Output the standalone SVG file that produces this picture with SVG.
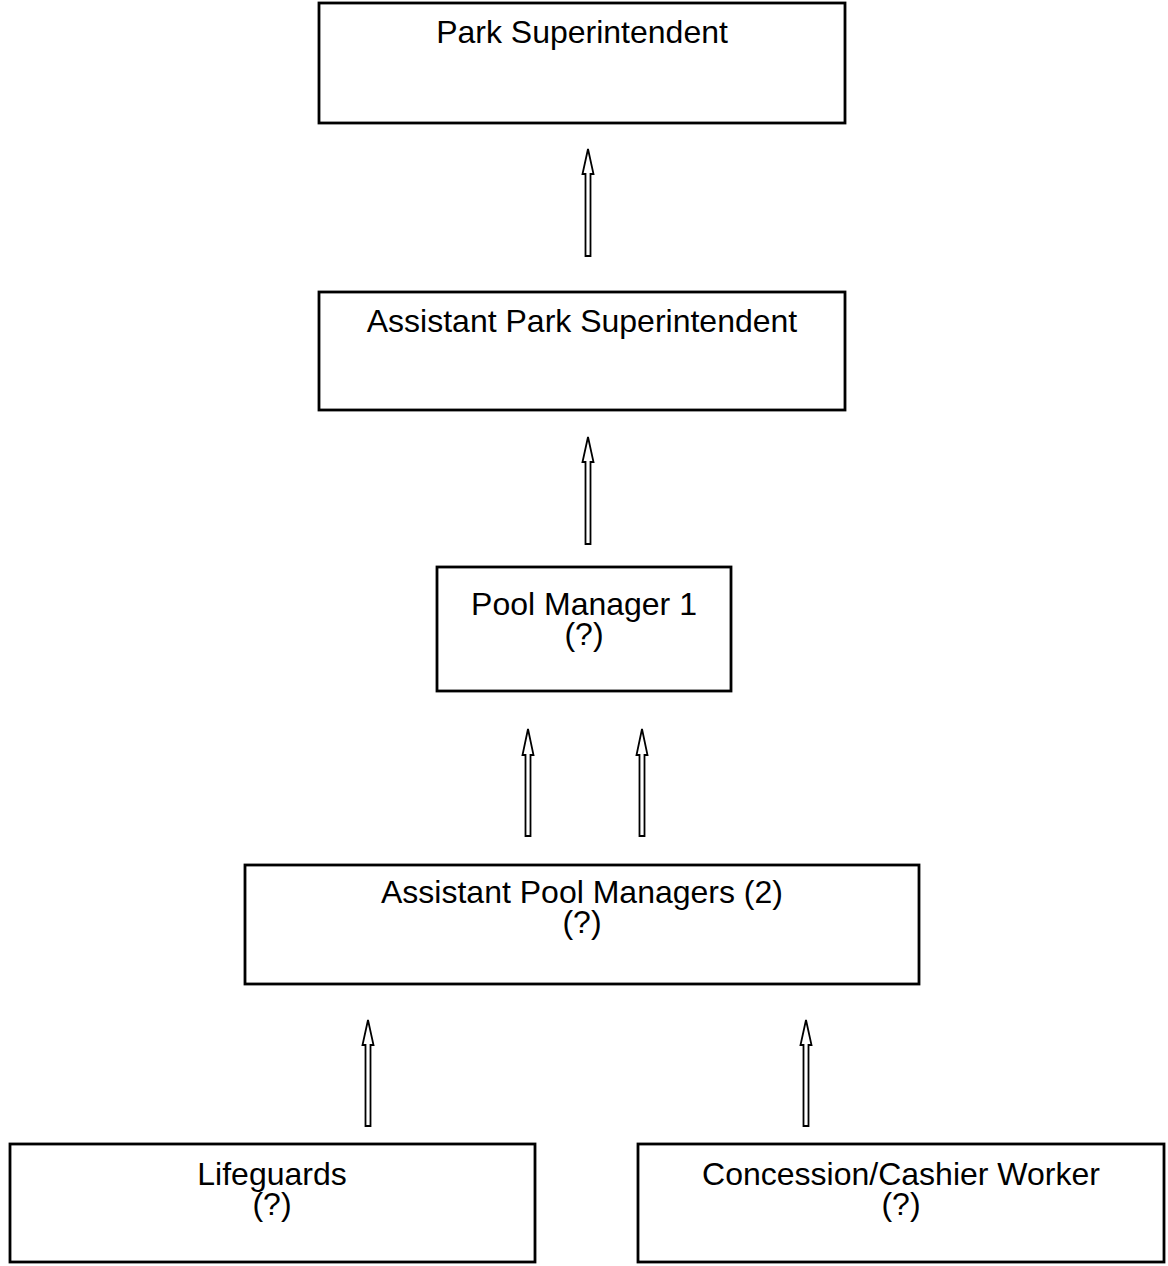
<svg xmlns="http://www.w3.org/2000/svg" width="1168" height="1266" viewBox="0 0 1168 1266">
<style>
.box{fill:#fff;stroke:#000;stroke-width:2.8}
.t{font-family:"Liberation Sans",Arial,sans-serif;font-size:32px;fill:#000;text-anchor:middle}
.arr{fill:#fff;stroke:#000;stroke-width:1.8;stroke-linejoin:miter}
</style>
<rect width="1168" height="1266" fill="#fff"/>
<g id="connectors">
<path class="arr" d="M588,149 L593.5,174 L590.5,174 L590.5,256 L585.5,256 L585.5,174 L582.5,174 Z"/>
<path class="arr" d="M588,437 L593.5,462 L590.5,462 L590.5,544 L585.5,544 L585.5,462 L582.5,462 Z"/>
<path class="arr" d="M528,729 L533.5,755 L530.5,755 L530.5,836 L525.5,836 L525.5,755 L522.5,755 Z"/>
<path class="arr" d="M642,729 L647.5,755 L644.5,755 L644.5,836 L639.5,836 L639.5,755 L636.5,755 Z"/>
<path class="arr" d="M368,1020 L373.5,1045 L370.5,1045 L370.5,1126 L365.5,1126 L365.5,1045 L362.5,1045 Z"/>
<path class="arr" d="M806,1020 L811.5,1045 L808.5,1045 L808.5,1126 L803.5,1126 L803.5,1045 L800.5,1045 Z"/>
</g>
<g id="park-superintendent">
<rect class="box" x="319" y="3" width="526" height="120"/>
<text class="t" x="582" y="43">Park Superintendent</text>
</g>
<g id="assistant-park-superintendent">
<rect class="box" x="319" y="292" width="526" height="118"/>
<text class="t" x="582" y="332">Assistant Park Superintendent</text>
</g>
<g id="pool-manager">
<rect class="box" x="437" y="567" width="294" height="124"/>
<text class="t" x="584" y="615">Pool Manager 1</text>
<text class="t" x="584" y="645">(?)</text>
</g>
<g id="assistant-pool-managers">
<rect class="box" x="245" y="865" width="674" height="119"/>
<text class="t" x="582" y="903">Assistant Pool Managers (2)</text>
<text class="t" x="582" y="933">(?)</text>
</g>
<g id="lifeguards">
<rect class="box" x="10" y="1144" width="525" height="118"/>
<text class="t" x="272" y="1185">Lifeguards</text>
<text class="t" x="272" y="1215">(?)</text>
</g>
<g id="concession-cashier">
<rect class="box" x="638" y="1144" width="526" height="118"/>
<text class="t" x="901" y="1185">Concession/Cashier Worker</text>
<text class="t" x="901" y="1215">(?)</text>
</g>
</svg>
